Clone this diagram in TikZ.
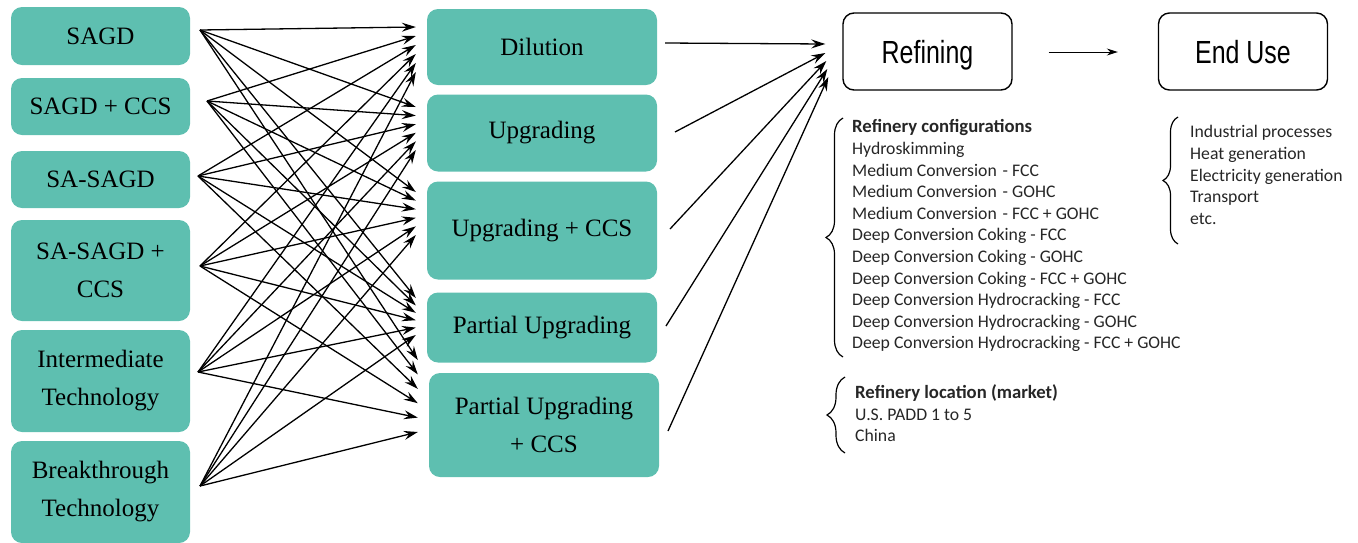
\documentclass[tikz,border=0pt]{standalone}
\usepackage{fontspec}
\setmainfont{Liberation Serif}
\newfontfamily\notefont{Carlito}
\newfontfamily\stagefont[FakeStretch=0.78]{Liberation Sans}
\usetikzlibrary{arrows.meta,decorations.pathreplacing,calc}
\definecolor{techteal}{HTML}{5EBFB0}
\newcommand{\notehead}[1]{{\fontsize{18.7}{21.6}\selectfont\bfseries #1}}
\begin{document}
\begin{tikzpicture}[x=1pt,y=-1pt,
  techbox/.style={rectangle, rounded corners=11pt, fill=techteal, draw=none,
    align=center, inner sep=0pt, font=\fontsize{25}{38}\selectfont},
  stagebox/.style={rectangle, rounded corners=11pt, draw=black, line width=1.4pt,
    fill=white, inner sep=0pt, minimum width=169pt, minimum height=77pt,
    text depth=0pt, font=\stagefont\fontsize{32}{38}\selectfont},
  link/.style={-{Stealth[length=14pt,width=9pt,inset=5pt]}, line width=1.3pt, black},
  flow/.style={-{Stealth[length=11pt,width=7pt,inset=3.5pt]}, line width=1pt},
  curly/.style={decorate, line width=1.2pt},
  notes/.style={anchor=north west, align=left, inner sep=0pt, text=black!85,
    font=\notefont\fontsize{17.7}{21.6}\selectfont}]

\useasboundingbox (0,0) rectangle (1358,542);

% extraction technologies
\node[techbox, minimum width=179pt, minimum height=58pt]  (L1) at (100.5,36)    {SAGD};
\node[techbox, minimum width=179pt, minimum height=57pt]  (L2) at (100.5,106.5) {SAGD + CCS};
\node[techbox, minimum width=179pt, minimum height=57pt]  (L3) at (100.5,179.5) {SA-SAGD};
\node[techbox, minimum width=179pt, minimum height=101pt] (L4) at (100.5,270.5) {SA-SAGD +\\CCS};
\node[techbox, minimum width=179pt, minimum height=102pt] (L5) at (100.5,381)   {Intermediate\\Technology};
\node[techbox, minimum width=179pt, minimum height=102pt] (L6) at (100.5,492)   {Breakthrough\\Technology};

% bitumen processing
\node[techbox, minimum width=230pt, minimum height=76pt]  (M1) at (542,47)    {Dilution};
\node[techbox, minimum width=230pt, minimum height=77pt]  (M2) at (542,133)   {Upgrading};
\node[techbox, minimum width=230pt, minimum height=98pt]  (M3) at (542,230.5) {Upgrading + CCS};
\node[techbox, minimum width=230pt, minimum height=70pt]  (M4) at (542,327.5) {Partial Upgrading};
\node[techbox, minimum width=230pt, minimum height=104pt] (M5) at (544,425)   {Partial Upgrading\\+ CCS};

% downstream stages
\node[stagebox] (R) at (927.5,51.5) {Refining};
\node[stagebox] (E) at (1243,51.5)  {End Use};

% arrow origins on the technology boxes
\coordinate (s1) at (200,30);
\coordinate (s2) at (207,101);
\coordinate (s3) at (198,176);
\coordinate (s4) at (200,266);
\coordinate (s5) at (198,372);
\coordinate (s6) at (200,486);

% every technology feeds every processing route
\foreach \j/\top/\bot in {1/27/72, 2/107/150, 3/192/235, 4/298/335, 5/360/432}{
  \foreach \i in {1,...,6}{
    \coordinate (e\j\i) at ($(M\j.west|-0,{\top+(\i-1)*(\bot-\top)/5})+(-11,0)$);
    \draw[link] (s\i) -- (e\j\i);
  }
}

% processing routes into refining
\coordinate (p1) at (665,43);
\coordinate (p2) at (675,132);
\coordinate (p3) at (670,229);
\coordinate (p4) at (666,326);
\coordinate (p5) at (668,431);
\coordinate (r1) at ($(R.west)+(-17,-7.5)$);
\coordinate (r2) at ($(R.west)+(-17,1.5)$);
\coordinate (r3) at ($(R.west)+(-16,9.5)$);
\coordinate (r4) at ($(R.west)+(-15,17.5)$);
\coordinate (r5) at ($(R.west)+(-14,25.5)$);
\foreach \k in {1,...,5}{\draw[link] (p\k) -- (r\k);}

\draw[flow] ($(R.east)+(36,0.5)$) -- ($(E.west)+(-40,0.5)$);

% refinery configurations
\draw[curly, decoration={brace, amplitude=17pt}] (843,357) -- (843,118);
\node[notes] (cfg) at (852,119.5) {\notehead{Refinery configurations}\\
Hydroskimming\\
Medium Conversion\,\,- FCC\\
Medium Conversion\,\,- GOHC\\
Medium Conversion\,\,- FCC + GOHC\\
Deep Conversion Coking - FCC\\
Deep Conversion Coking - GOHC\\
Deep Conversion Coking - FCC + GOHC\\
Deep Conversion Hydrocracking - FCC\\
Deep Conversion Hydrocracking - GOHC\\
Deep Conversion Hydrocracking - FCC + GOHC};

% end uses
\draw[curly, decoration={brace, amplitude=15pt}] (1178,244) -- (1178,117);
\node[notes] (use) at (1190,125.5) {Industrial processes\\
Heat generation\\
Electricity generation\\
Transport\\
etc.};

% refinery location
\draw[curly, decoration={brace, amplitude=18pt}] (845,453) -- (845,377);
\node[notes] (loc) at (855,384.5) {\notehead{Refinery location (market)}\\
U.S. PADD 1 to 5\\
China};

\end{tikzpicture}
\end{document}
